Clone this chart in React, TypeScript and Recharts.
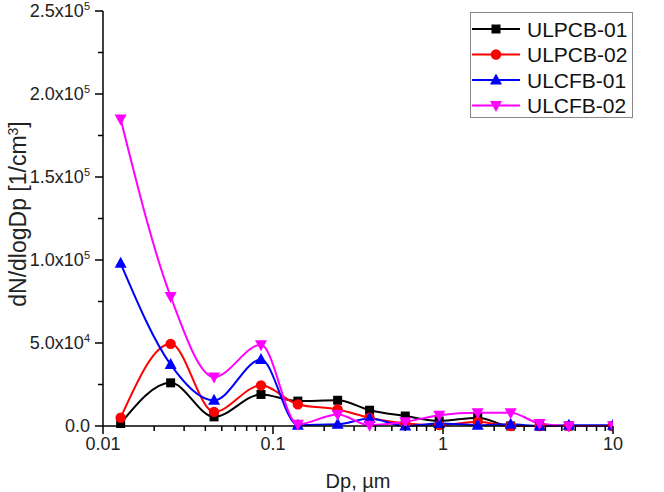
import { LineChart, Line, XAxis, YAxis } from 'recharts';

// particle size bins (µm) and dN/dlogDp per sample
const dp = [0.0127, 0.025, 0.045, 0.085, 0.14, 0.24, 0.37, 0.6, 0.95, 1.6, 2.5, 3.7, 5.5, 10];
const ulpcb01 = [1500, 26000, 5500, 19000, 15000, 15500, 9500, 6000, 3000, 5000, 0, 0, 0, 0];
const ulpcb02 = [5000, 49500, 8500, 24500, 13000, 10000, 5000, 1500, 500, 2500, 0, 0, 0, 0];
const ulcfb01 = [98000, 37000, 15500, 40000, 500, 1000, 4500, 0, 1500, 500, 1000, 0, 500, 500];
const ulcfb02 = [185000, 78000, 29500, 49000, 1000, 7000, 500, 2500, 6500, 8000, 8000, 1500, 0, 0];

const xTicks = [0.01, 0.02, 0.03, 0.04, 0.05, 0.06, 0.07, 0.08, 0.09,
  0.1, 0.2, 0.3, 0.4, 0.5, 0.6, 0.7, 0.8, 0.9,
  1, 2, 3, 4, 5, 6, 7, 8, 9, 10];
const xMajor = [0.01, 0.1, 1, 10];
const yTicks = [0, 25000, 50000, 75000, 100000, 125000, 150000, 175000, 200000, 225000, 250000];
const yLabels: Record<number, [string, string]> = {
  0: ['0.0', ''],
  50000: ['5.0x10', '4'],
  100000: ['1.0x10', '5'],
  150000: ['1.5x10', '5'],
  200000: ['2.0x10', '5'],
  250000: ['2.5x10', '5'],
};

const series = [
  { key: 'ulpcb01', name: 'ULPCB-01', color: '#000000', shape: 'square', values: ulpcb01 },
  { key: 'ulpcb02', name: 'ULPCB-02', color: '#ff0000', shape: 'circle', values: ulpcb02 },
  { key: 'ulcfb01', name: 'ULCFB-01', color: '#0000ff', shape: 'up', values: ulcfb01 },
  { key: 'ulcfb02', name: 'ULCFB-02', color: '#ff00ff', shape: 'down', values: ulcfb02 },
];

const data = dp.map((d, i) => {
  const row: any = { dp: d };
  series.forEach(s => { row[s.key] = s.values[i]; });
  return row;
});

const FONT = '"Liberation Sans", Arial, sans-serif';

function Marker({ cx, cy, color, shape }: any) {
  if (shape === 'square') return <rect x={cx - 4.5} y={cy - 4.5} width={9} height={9} fill={color} />;
  if (shape === 'circle') return <circle cx={cx} cy={cy} r={5.2} fill={color} />;
  if (shape === 'up') return <polygon points={`${cx},${cy - 6.5} ${cx - 6},${cy + 4.5} ${cx + 6},${cy + 4.5}`} fill={color} />;
  return <polygon points={`${cx - 6},${cy - 4.5} ${cx + 6},${cy - 4.5} ${cx},${cy + 6.5}`} fill={color} />;
}

function XTick({ x, y, payload }: any) {
  const v = payload.value;
  const major = xMajor.some(m => Math.abs(m - v) < 1e-9);
  return (
    <g>
      <line x1={x} y1={y} x2={x} y2={y + (major ? 8 : 5)} stroke="#000" strokeWidth={1.5} />
      {major && (
        <text x={x} y={y + 24} textAnchor="middle" fontSize={18} fontFamily={FONT} fill="#222">{String(v)}</text>
      )}
    </g>
  );
}

function YTick({ x, y, payload }: any) {
  const v = payload.value;
  const lab = yLabels[v];
  return (
    <g>
      <line x1={x} y1={y} x2={x - (lab ? 8 : 5)} y2={y} stroke="#000" strokeWidth={1.5} />
      {lab && (
        <text x={x - 13} y={y + 6} textAnchor="end" fontSize={18} fontFamily={FONT} fill="#222">
          {lab[0]}
          {lab[1] && <tspan dy={-7} fontSize={11}>{lab[1]}</tspan>}
        </text>
      )}
    </g>
  );
}

function LegendBox() {
  return (
    <svg width={164} height={107} style={{ position: 'absolute', left: 470, top: 12 }}>
      <rect x={0.5} y={0.5} width={162} height={105} fill="#fff" stroke="#888" strokeWidth={1} />
      {series.map((s, i) => {
        const cy = 17 + i * 25.5;
        return (
          <g key={s.key}>
            <line x1={2} x2={50} y1={cy} y2={cy} stroke={s.color} strokeWidth={2} />
            <Marker cx={26} cy={cy} color={s.color} shape={s.shape} />
            <text x={57} y={cy + 7.5} fontSize={21} fontFamily={FONT} fill="#111">{s.name}</text>
          </g>
        );
      })}
    </svg>
  );
}

export default function App() {
  return (
    <div style={{ position: 'absolute', left: 0, top: 0, width: 664, height: 492, background: '#fff' }}>
      <LineChart width={664} height={492} data={data} margin={{ top: 11, right: 51, bottom: 0, left: 0 }}>
        <XAxis
          dataKey="dp"
          type="number"
          scale="log"
          domain={[0.01, 10]}
          ticks={xTicks}
          interval={0}
          allowDataOverflow
          height={66}
          tickSize={0}
          tickMargin={0}
          tickLine={false}
          tick={<XTick />}
          axisLine={{ stroke: '#000', strokeWidth: 1.5 }}
          label={{ value: 'Dp, µm', position: 'insideBottom', offset: 4, fontSize: 20, fontFamily: FONT, fill: '#222' }}
        />
        <YAxis
          type="number"
          domain={[0, 250000]}
          ticks={yTicks}
          interval={0}
          width={103}
          tickSize={0}
          tickMargin={0}
          tickLine={false}
          tick={<YTick />}
          axisLine={{ stroke: '#000', strokeWidth: 1.5 }}
        />
        {series.map(s => (
          <Line
            key={s.key}
            dataKey={s.key}
            name={s.name}
            type="monotoneX"
            stroke={s.color}
            strokeWidth={2}
            isAnimationActive={false}
            dot={(p: any) => <Marker key={`${s.key}-${p.index}`} cx={p.cx} cy={p.cy} color={s.color} shape={s.shape} />}
            activeDot={false}
          />
        ))}
        <text x={0} y={0} transform="translate(26,214) rotate(-90)" textAnchor="middle" fontSize={23} fontFamily={FONT} fill="#222">
          dN/dlogDp [1/cm<tspan dy={-8} fontSize={14}>3</tspan><tspan dy={8}>]</tspan>
        </text>
      </LineChart>
      <LegendBox />
    </div>
  );
}
